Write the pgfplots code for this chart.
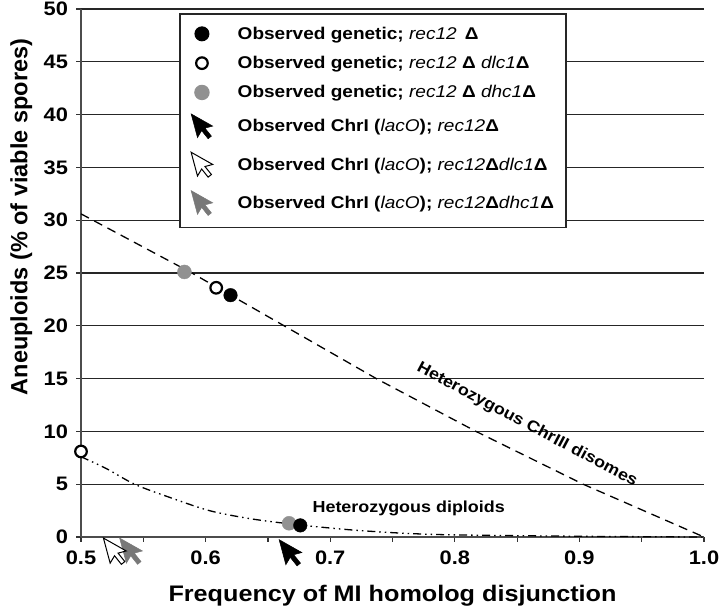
\documentclass[border=0pt]{standalone}
\usepackage{fontspec}
\setmainfont{Liberation Sans}[FakeStretch=1.12]
\newfontfamily\plainsans{Liberation Sans}
\usepackage{pgfplots}
\pgfplotsset{compat=1.18}

\definecolor{mygray}{RGB}{145,145,145}
\definecolor{arrgray}{RGB}{120,120,120}

% mouse-cursor mark, tip at the data point
\pgfdeclareplotmark{cursor}{%
  \pgfpathmoveto{\pgfqpoint{0pt}{0pt}}%
  \pgfpathlineto{\pgfqpoint{6.72pt}{-25.09pt}}%
  \pgfpathlineto{\pgfqpoint{11.12pt}{-17.7pt}}%
  \pgfpathlineto{\pgfqpoint{17.95pt}{-26.28pt}}%
  \pgfpathlineto{\pgfqpoint{21.41pt}{-23.5pt}}%
  \pgfpathlineto{\pgfqpoint{14.63pt}{-15.08pt}}%
  \pgfpathlineto{\pgfqpoint{22.78pt}{-12.89pt}}%
  \pgfpathclose
  \pgfusepathqfillstroke}
% same cursor, centred (for the legend)
\pgfdeclareplotmark{cursorc}{%
  \pgfpathmoveto{\pgfqpoint{-10.81pt}{12.4pt}}%
  \pgfpathlineto{\pgfqpoint{-4.45pt}{-11.34pt}}%
  \pgfpathlineto{\pgfqpoint{-0.29pt}{-4.35pt}}%
  \pgfpathlineto{\pgfqpoint{6.18pt}{-12.47pt}}%
  \pgfpathlineto{\pgfqpoint{9.46pt}{-9.84pt}}%
  \pgfpathlineto{\pgfqpoint{3.03pt}{-1.87pt}}%
  \pgfpathlineto{\pgfqpoint{10.75pt}{0.2pt}}%
  \pgfpathclose
  \pgfusepathqfillstroke}

\newcommand{\gi}[1]{{\mdseries\itshape #1}}
\newcommand{\Dl}{\textbf{Δ}}
\newcommand{\LE}[1]{\hspace*{24pt}#1}

\begin{document}
\begin{tikzpicture}
\begin{axis}[
  scale only axis, width=623pt, height=528pt,
  xmin=0.5, xmax=1.0, ymin=0, ymax=50,
  clip=false,
  axis x line*=bottom, axis y line*=left,
  axis line style={line width=1.6pt, black!70},
  xtick={0.5,0.6,0.7,0.8,0.9,1.0},
  minor xtick={0.55,0.65,0.75,0.85,0.95},
  ytick={0,5,10,15,20,25,30,35,40,45,50},
  tick align=outside, major tick length=4.5pt, minor tick length=4.5pt,
  tick style={line width=1.2pt, black!80},
  ymajorgrids, major grid style={line width=1.1pt, black!85},
  xticklabel style={yshift=-6pt, /pgf/number format/.cd, fixed, fixed zerofill, precision=1},
  yticklabel style={xshift=-5pt},
  /pgf/number format/assume math mode=true,
  ticklabel style={font=\bfseries\fontsize{19.5}{22}\selectfont},
  xlabel={Frequency of MI homolog disjunction},
  ylabel={Aneuploids (\% of viable spores)},
  xlabel style={font=\bfseries\fontsize{22.5}{26}\selectfont, at={(axis description cs:0.5,-0.1225)}, anchor=base},
  ylabel style={font=\plainsans\bfseries\fontsize{23.5}{27}\selectfont, at={(axis description cs:-0.096,0.606)}, anchor=center},
  legend style={at={(axis cs:0.579,49.6)}, anchor=north west, draw=black!85, line width=1.4pt, fill=white,
    font=\bfseries\fontsize{17}{20}\selectfont, row sep=13.5pt, inner xsep=11pt, inner ysep=12pt, nodes={inner sep=1pt}},
  legend cell align=left,
]
% curves
\addplot[forget plot, black, line width=1.3pt, dash pattern=on 9pt off 6pt]
  coordinates {(0.5,30.6)(0.589,25)(0.663,20)(0.737,15)(0.817,10)(0.903,5)(1.0,0)};
\addplot[forget plot, black, line width=1.3pt, smooth, dash pattern=on 8pt off 4pt on 1.5pt off 4pt on 1.5pt off 4pt]
  coordinates {(0.5,7.6)(0.52,6.5)(0.543,5.0)(0.57,3.8)(0.603,2.5)(0.635,1.75)(0.667,1.25)(0.7,0.85)(0.725,0.6)(0.76,0.35)(0.8,0.2)(0.9,0.07)(1.0,0)};
% observed genetic points
\addplot[forget plot, only marks, mark=*, mark size=7pt, mark options={fill=mygray, draw=mygray}]
  coordinates {(0.583,25.1)(0.667,1.3)};
\addplot[forget plot, only marks, mark=*, mark size=5.8pt, mark options={fill=white, draw=black, line width=2.2pt}]
  coordinates {(0.6085,23.6)(0.5,8.1)};
\addplot[forget plot, only marks, mark=*, mark size=6.8pt, mark options={fill=black, draw=black}]
  coordinates {(0.620,22.9)(0.676,1.1)};
% observed ChrI (lacO) cursors
\addplot[forget plot, only marks, mark=cursor, mark options={fill=arrgray, draw=arrgray, line width=0.5pt}]
  coordinates {(0.531,-0.1)};
\addplot[forget plot, only marks, mark=cursor, mark options={fill=white, draw=black, line width=1pt}]
  coordinates {(0.518,-0.1)};
\addplot[forget plot, only marks, mark=cursor, mark options={fill=black, draw=black, line width=0.5pt}]
  coordinates {(0.659,-0.25)};
% legend
\addlegendimage{only marks, mark=*, mark size=6.8pt, mark options={fill=black, draw=black}}
\addlegendentry{\LE{Observed genetic; \gi{rec12}\, \Dl}}
\addlegendimage{only marks, mark=*, mark size=5.8pt, mark options={fill=white, draw=black, line width=2.2pt}}
\addlegendentry{\LE{Observed genetic; \gi{rec12} \Dl\ \gi{dlc1}\Dl}}
\addlegendimage{only marks, mark=*, mark size=7pt, mark options={fill=mygray, draw=mygray}}
\addlegendentry{\LE{Observed genetic; \gi{rec12} \Dl\ \gi{dhc1}\Dl}}
\addlegendimage{only marks, mark=cursorc, mark options={fill=black, draw=black, line width=0.5pt}}
\addlegendentry{\LE{Observed ChrI (\gi{lacO}); \gi{rec12}\Dl}}
\addlegendimage{only marks, mark=cursorc, mark options={fill=white, draw=black, line width=1pt}}
\addlegendentry{\LE{Observed ChrI (\gi{lacO}); \gi{rec12}\Dl\gi{dlc1}\Dl}}
\addlegendimage{only marks, mark=cursorc, mark options={fill=arrgray, draw=arrgray, line width=0.5pt}}
\addlegendentry{\LE{Observed ChrI (\gi{lacO}); \gi{rec12}\Dl\gi{dhc1}\Dl}}
% annotations
\node[font=\bfseries\fontsize{16}{19}\selectfont, rotate=-28] at (axis cs:0.858,10.6) {Heterozygous ChrIII disomes};
\node[font=\bfseries\fontsize{16}{19}\selectfont] at (axis cs:0.763,2.75) {Heterozygous diploids};
\end{axis}
\pgfresetboundingbox
\path ([shift={(-81pt,-73pt)}]current axis.south west) rectangle ([shift={(16pt,9pt)}]current axis.north east);
\end{tikzpicture}
\end{document}
